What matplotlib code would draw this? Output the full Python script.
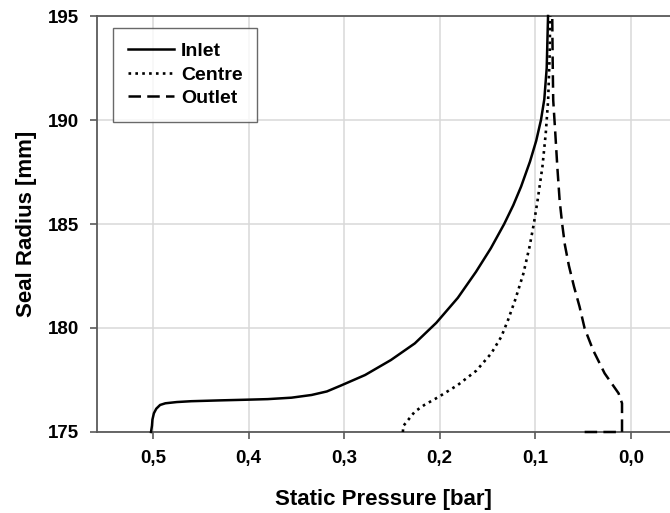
import matplotlib
matplotlib.use("Agg")
import matplotlib.pyplot as plt
from matplotlib.ticker import FuncFormatter

plt.rcParams["font.family"] = ["Liberation Sans", "DejaVu Sans"]
plt.rcParams["font.weight"] = "bold"

# Static pressure [bar] vs seal radius [mm]
inlet_p = [0.502, 0.501, 0.5005, 0.499, 0.4965, 0.4925, 0.487, 0.475, 0.460, 0.430,
           0.404, 0.380, 0.355, 0.334, 0.318, 0.303, 0.278, 0.251, 0.226, 0.2035,
           0.181, 0.162, 0.1465, 0.1325, 0.123, 0.1148, 0.1055, 0.099, 0.094, 0.0905,
           0.088, 0.0866]
inlet_r = [175.0, 175.3, 175.6, 175.9, 176.12, 176.3, 176.38, 176.44, 176.48, 176.52,
           176.55, 176.58, 176.65, 176.78, 176.95, 177.24, 177.74, 178.46, 179.26, 180.25,
           181.45, 182.7, 183.83, 185.0, 185.9, 186.8, 188.0, 189.0, 190.0, 191.0,
           192.5, 195.0]

centre_p = [0.2385, 0.238, 0.226, 0.216, 0.2017, 0.181, 0.1616, 0.146, 0.1355, 0.1285,
            0.121, 0.1125, 0.106, 0.1015, 0.0975, 0.0925, 0.089, 0.0865, 0.085, 0.0843]
centre_r = [175.0, 175.29, 175.98, 176.3, 176.67, 177.26, 177.95, 178.78, 179.58, 180.38,
            181.35, 182.6, 183.9, 185.0, 186.15, 187.75, 189.36, 190.96, 193.0, 195.0]

outlet_p = [0.0483, 0.0092, 0.0092, 0.0128, 0.0274, 0.0395, 0.0483, 0.0536, 0.0595,
            0.0648, 0.069, 0.0718, 0.0745, 0.0769, 0.079, 0.0812, 0.0818, 0.0822]
outlet_r = [175.0, 175.0, 176.38, 176.86, 177.82, 178.94, 179.98, 181.02, 182.0,
            183.0, 184.0, 185.0, 186.15, 187.75, 189.36, 190.96, 193.0, 195.0]

x_ticks = [0.5, 0.4, 0.3, 0.2, 0.1, 0.0]
y_ticks = [175, 180, 185, 190, 195]

fig = plt.figure(figsize=(6.7, 5.13), dpi=100)
ax = fig.add_axes([0.1448, 0.1579, 0.8552, 0.8109])

ax.plot(inlet_p, inlet_r, color="black", lw=1.8, ls="-", label="Inlet",
        zorder=3, clip_on=False)
ax.plot(centre_p, centre_r, color="black", lw=1.9, ls=(0, (1, 1.6)), label="Centre",
        zorder=3, clip_on=False)
ax.plot(outlet_p, outlet_r, color="black", lw=1.8, ls=(0, (5, 2.5)), label="Outlet",
        zorder=3, clip_on=False)

ax.set_xlim(0.5585, -0.041)
ax.set_ylim(175, 195)
ax.set_xticks(x_ticks)
ax.set_yticks(y_ticks)
ax.xaxis.set_major_formatter(FuncFormatter(lambda v, _: f"{v:.1f}".replace(".", ",")))
ax.grid(True, color="#d9d9d9", lw=1.1)
ax.set_axisbelow(True)

for side in ["left", "top", "bottom"]:
    ax.spines[side].set_color("#5a5a5a")
    ax.spines[side].set_linewidth(1.3)
ax.spines["right"].set_visible(False)
ax.tick_params(direction="out", length=5, width=1.2, color="#5a5a5a",
               labelsize=13.5, pad=8)

ax.set_xlabel("Static Pressure [bar]", fontsize=16, fontweight="bold", labelpad=16)
ax.set_ylabel("Seal Radius [mm]", fontsize=16, fontweight="bold", labelpad=8)

leg = ax.legend(loc="upper left", bbox_to_anchor=(0.028, 0.971), fontsize=14,
                frameon=True, fancybox=False, edgecolor="#444444",
                handlelength=2.4, handletextpad=0.35, borderpad=0.75,
                labelspacing=0.3, borderaxespad=0)
leg.get_frame().set_linewidth(1.0)

fig.savefig("out.png", dpi=100)
